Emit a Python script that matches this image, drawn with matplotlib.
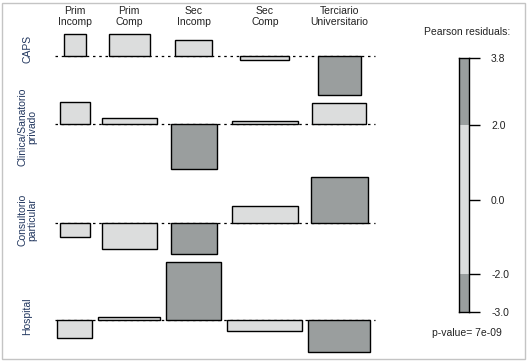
import matplotlib
matplotlib.use('Agg')
import matplotlib.pyplot as plt
import matplotlib.transforms as mtransforms
from matplotlib.patches import Rectangle
import numpy as np

plt.rcParams['font.family'] = ['Liberation Sans', 'DejaVu Sans']

# ---------------- data ----------------
rows = ['CAPS', 'Clinica/Sanatorio\nprivado', 'Consultorio\nparticular', 'Hospital']
cols = ['Prim\nIncomp', 'Prim\nComp', 'Sec\nIncomp', 'Sec\nComp', 'Terciario\nUniversitario']
# Pearson residuals (rows x cols)
residuals = [
    [1.43, 1.43, 1.04, -0.26, -2.53],
    [1.43, 0.39, -2.95, 0.19, 1.36],
    [-0.97, -1.69, -2.05, 1.10, 2.99],
    [-1.17, 0.24, 3.83, -0.71, -2.05],
]
# expected counts (bar width ~ sqrt(expected))
expected = [
    [56, 187, 155, 270, 202],
    [100, 340, 235, 484, 324],
    [100, 340, 235, 484, 361],
    [136, 427, 336, 625, 427],
]
legend_ticks = [3.8, 2.0, 0.0, -2.0, -3.0]
legend_min, legend_max = -3.0, 3.8
threshold = 2.0
p_value = '7e-09'

# ---------------- style ----------------
W, H = 528, 362
DPI = 100
dark = '#9a9e9e'
light = '#dcdddd'
label_color = '#22375f'
fs = 7.5
ypx = 15.3   # px per residual unit
xpx = 3.0    # px per sqrt(expected) unit

res = np.array(residuals, dtype=float)
sq = np.sqrt(np.array(expected, dtype=float))
nr, nc = res.shape

fig = plt.figure(figsize=(W / DPI, H / DPI), dpi=DPI)

# frame around the figure
fig.patches.append(Rectangle((2 / W, 3 / H), 523 / W, 356 / H, transform=fig.transFigure,
                             fill=False, edgecolor='#c4c4c4', lw=1.0))

# column layout
col_w = sq.max(axis=0)
xgap = 2.0
col_left = np.concatenate([[0], np.cumsum(col_w + xgap)[:-1]])
col_center = col_left + col_w / 2
xtotal = col_left[-1] + col_w[-1]

# row layout
ygap = 0.5
row_pos = np.maximum(res.max(axis=1), 0)
row_neg = np.maximum(-res.min(axis=1), 0)
baselines = []
y = 0.0
for i in range(nr):
    y -= row_pos[i]
    baselines.append(y)
    y -= row_neg[i]
    if i < nr - 1:
        y -= ygap
ytotal = -y

left_px, top_px = 57.3, 34.0
ax = fig.add_axes([left_px / W, 1 - (top_px + ytotal * ypx) / H,
                   xtotal * xpx / W, ytotal * ypx / H])
ax.set_xlim(0, xtotal)
ax.set_ylim(-ytotal, 0)
ax.axis('off')

for i in range(nr):
    b = baselines[i]
    ax.plot([-0.8, xtotal + 1.5], [b, b], color='black', lw=0.9,
            linestyle=(0, (2, 3)), zorder=1, clip_on=False)
    for j in range(nc):
        r = res[i, j]
        w = sq[i, j]
        color = dark if abs(r) > threshold else light
        ax.add_patch(Rectangle((col_center[j] - w / 2, min(b, b + r)), w, abs(r),
                               facecolor=color, edgecolor='black', lw=1.0, zorder=2,
                               clip_on=False))

# column labels
col_tr = mtransforms.blended_transform_factory(ax.transData, fig.transFigure)
for j in range(nc):
    ax.text(col_center[j], 1 - 16.5 / H, cols[j], transform=col_tr,
            ha='center', va='center', fontsize=fs, color='#222222', linespacing=1.05)

# row labels
row_label_y = [49, 127, 220, 316]
for i in range(nr):
    fig.text(27.5 / W, 1 - row_label_y[i] / H, rows[i], rotation=90, ha='center',
             va='center', fontsize=fs, color=label_color, linespacing=1.05,
             multialignment='center')

# legend
lx0, lx1, ly0, ly1 = 459.3, 469.3, 58.3, 311.7
lax = fig.add_axes([lx0 / W, 1 - ly1 / H, (lx1 - lx0) / W, (ly1 - ly0) / H])
lax.set_xlim(0, 1)
lax.set_ylim(legend_min, legend_max)
lax.add_patch(Rectangle((0, threshold), 1, legend_max - threshold, facecolor=dark, lw=0))
lax.add_patch(Rectangle((0, -threshold), 1, 2 * threshold, facecolor=light, lw=0))
lax.add_patch(Rectangle((0, legend_min), 1, -threshold - legend_min, facecolor=dark, lw=0))
for s in lax.spines.values():
    s.set_linewidth(1.0)
lax.set_xticks([])
lax.yaxis.tick_right()
lax.set_yticks(legend_ticks)
lax.set_yticklabels([f'{t:.1f}' for t in legend_ticks])
lax.tick_params(axis='y', length=7.7, width=1.0, pad=8, labelsize=fs, colors='black',
                labelcolor='#222222')

fig.text(466.7 / W, 1 - 32 / H, 'Pearson residuals:', ha='center', va='center',
         fontsize=fs, color='#222222')
fig.text(466.7 / W, 1 - 333 / H, f'p-value= {p_value}', ha='center', va='center',
         fontsize=fs, color='#222222')

fig.savefig('out.png', dpi=DPI)
